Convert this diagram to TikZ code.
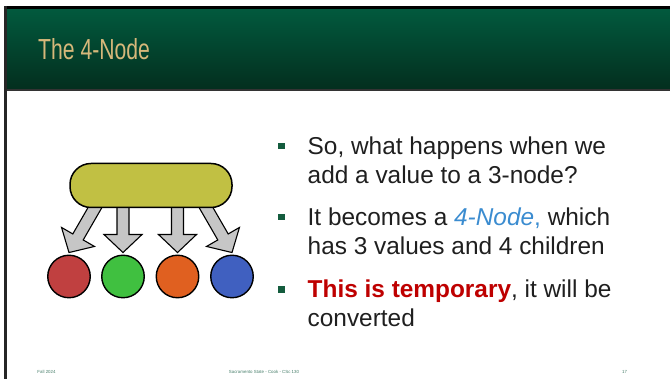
\documentclass[tikz,border=0pt]{standalone}
\usepackage{fontspec}
\setmainfont{Liberation Sans}
\newfontfamily\titlefont[FakeStretch=0.73]{Liberation Sans}
\usetikzlibrary{positioning, calc}

\definecolor{hdtop}{RGB}{2,90,62}
\definecolor{hdbot}{RGB}{3,46,30}
\definecolor{titletan}{RGB}{214,184,122}
\definecolor{pillolive}{RGB}{193,192,67}
\definecolor{kidred}{RGB}{192,64,64}
\definecolor{kidgreen}{RGB}{64,192,64}
\definecolor{kidorange}{RGB}{224,96,32}
\definecolor{kidblue}{RGB}{64,96,192}
\definecolor{bulgreen}{RGB}{20,92,62}
\definecolor{nodeblue}{RGB}{59,140,208}
\definecolor{tempred}{RGB}{190,0,0}
\definecolor{foot}{RGB}{70,125,105}

\tikzset{
  kid/.style={
    draw,
    circle,
    line width=1.4pt,
    minimum size=42.5pt,
    inner sep=0pt
  },
  blockarrow/.style={
    draw,
    fill=gray!45,
    line width=1.1pt
  }
}

% block arrow from #1 to tip #2
\newcommand{\blockarrow}[2]{%
  \coordinate (ba-h) at ($(#2)!18pt!(#1)$);
  \draw[blockarrow] ($(#1)!6pt!90:(#2)$) -- ($(ba-h)!6pt!90:(#2)$)
    -- ($(ba-h)!19pt!90:(#2)$) -- (#2) -- ($(ba-h)!19pt!-90:(#2)$)
    -- ($(ba-h)!6pt!-90:(#2)$) -- ($(#1)!6pt!-90:(#2)$) -- cycle;
}

\begin{document}
\begin{tikzpicture}[
    x=1pt, y=1pt,
    para/.style={
        anchor=base west, inner sep=0pt, align=left, text=black!88,
        font=\fontsize{24.4}{28.7}\selectfont
    },
    bullet/.style={
        fill=bulgreen, minimum size=6.5pt, inner sep=0pt
    },
    footer/.style={
        text=foot, inner sep=0pt, anchor=base,
        font=\fontsize{4.4}{5}\selectfont
    }
]
\useasboundingbox (0,0) rectangle (670,379);

% header band
\shade[top color=hdtop, bottom color=hdbot] (5,371) rectangle (670,289);
\draw[line width=3pt] (4,371.5) -- (670,371.5);
\draw[line width=1.2pt, black!80] (5,289) -- (670,289);
\draw[line width=2.5pt, black!85] (5.3,373) -- (5.3,0);
\node[anchor=base west, inner sep=0pt, text=titletan,
      font=\titlefont\fontsize{29}{32}\selectfont] (title) at (38,319) {The 4-Node};

% the 4-node and its children
\node[kid, fill=kidred]    (c1) at (69,102.5) {};
\node[kid, fill=kidgreen]  (c2) at (123,102.5) {};
\node[kid, fill=kidorange] (c3) at (177.5,102.5) {};
\node[kid, fill=kidblue]   (c4) at (232,102.5) {};

\coordinate (tip1) at ($(c1.north)+(0,2)$);
\coordinate (tip2) at ($(c2.north)+(0,2)$);
\coordinate (tip3) at ($(c3.north)+(0,2)$);
\coordinate (tip4) at ($(c4.north)+(0,2)$);
\coordinate (src1) at ($(tip1)+(60:77)$);
\coordinate (src2) at (tip2 |- 0,193.5);
\coordinate (src3) at (tip3 |- 0,193.5);
\coordinate (src4) at ($(tip4)+(120:77)$);
\blockarrow{src1}{tip1}
\blockarrow{src2}{tip2}
\blockarrow{src3}{tip3}
\blockarrow{src4}{tip4}

\node[draw, fill=pillolive, line width=1.5pt, rounded corners=21pt,
      minimum width=162pt, minimum height=44pt] (top) at (151,193.5) {};

% bullet text (base = last line)
\node[para] (t1) at (307.5,195.7) {So, what happens when we\\add a value to a 3-node?};
\node[para] (t2) at (307.5,124.6) {It becomes a \textcolor{nodeblue}{\textit{4-Node},} which\\has 3 values and 4 children};
\node[para] (t3) at (307.5,52.3) {\textcolor{tempred}{\textbf{This is temporary}}, it will be\\converted};
\node[bullet] (m1) at ($(t1.base west)+(-26,37.2)$) {};
\node[bullet] (m2) at ($(t2.base west)+(-26,37.2)$) {};
\node[bullet] (m3) at ($(t3.base west)+(-26,37.2)$) {};

% footer
\node[footer] (f1) at (46.5,5.5) {Fall 2024};
\node[footer] (f2) at (264,5.5) {Sacramento State - Cook - CSc 130};
\node[footer] (f3) at (624.5,5.5) {17};
\end{tikzpicture}
\end{document}
